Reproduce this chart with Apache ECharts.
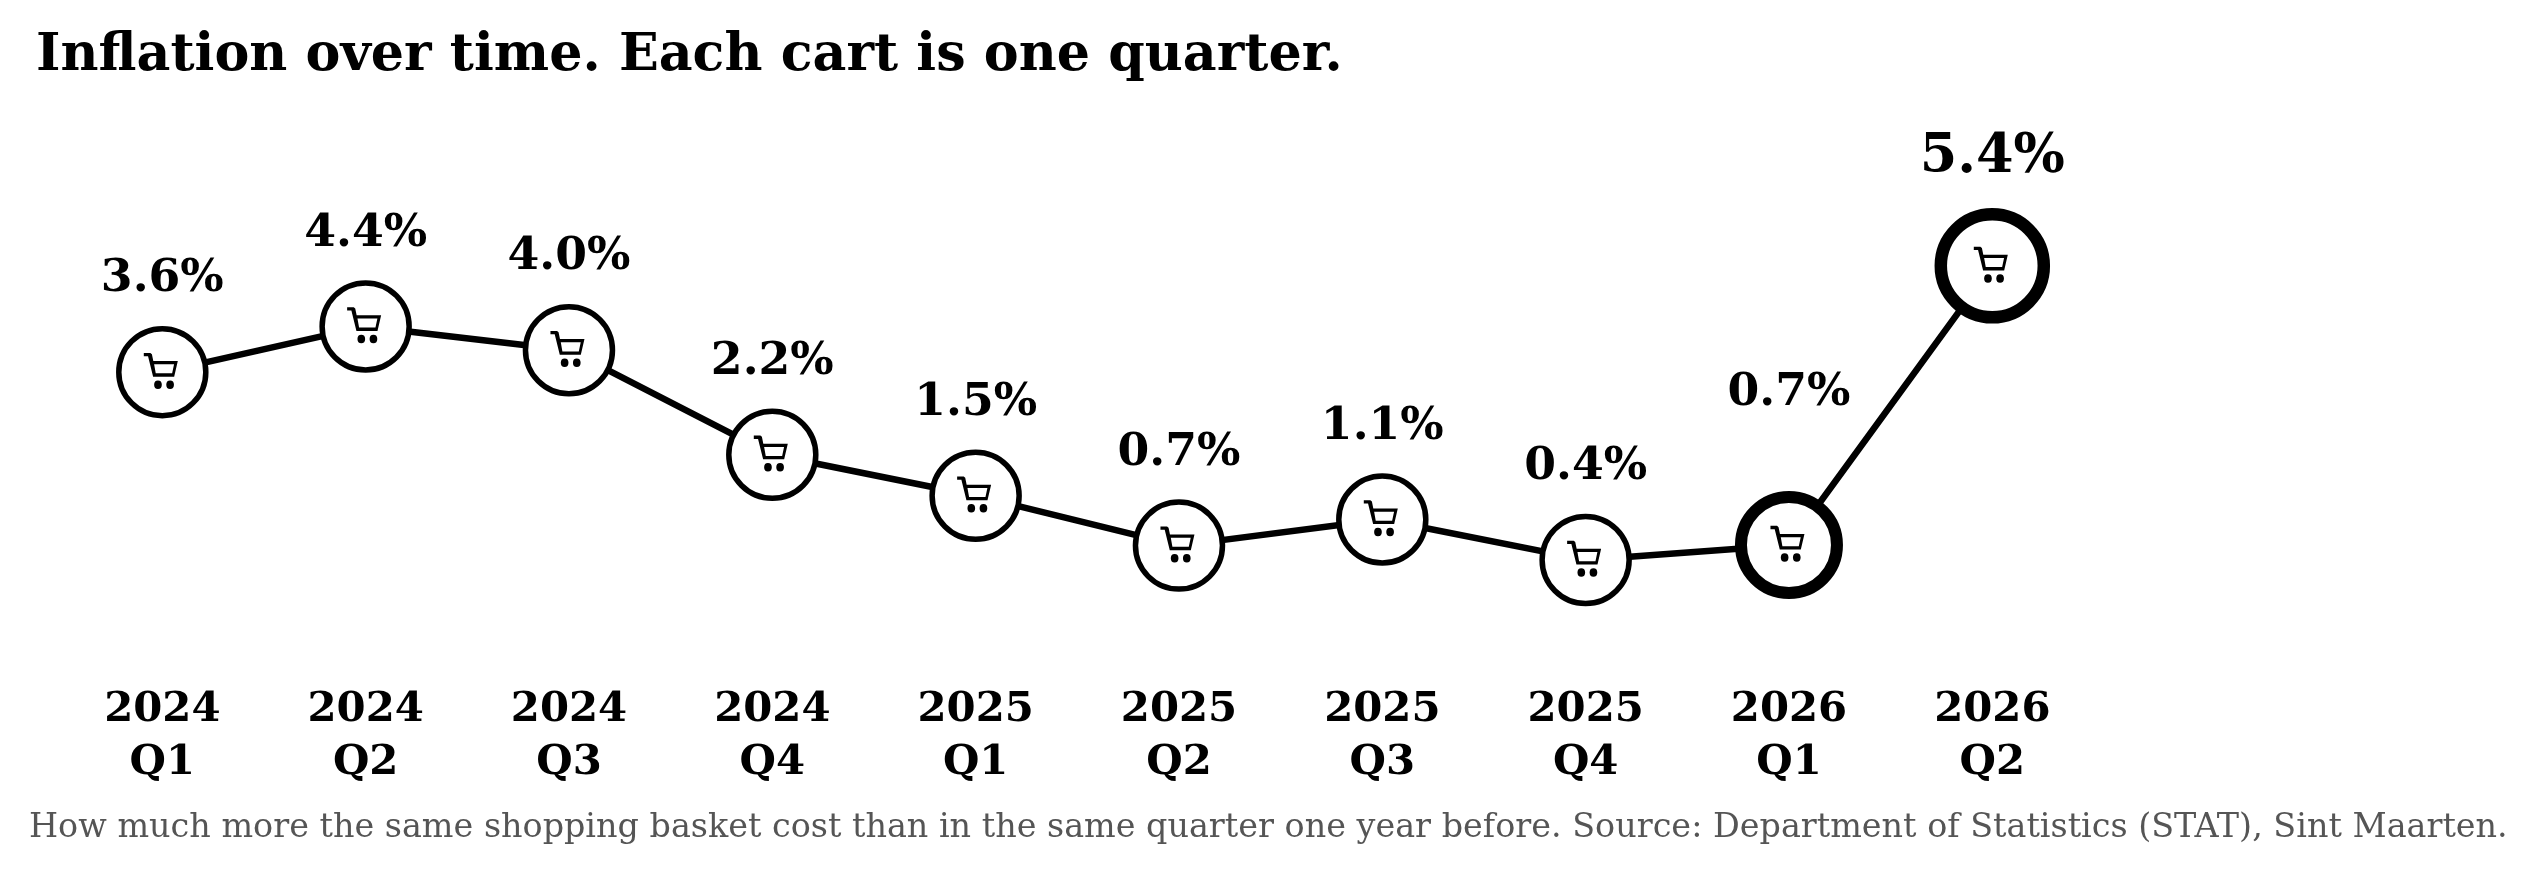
<!DOCTYPE html>
<html><head><meta charset="utf-8">
<style>html,body{margin:0;padding:0;background:#fff}#c{width:2538px;height:873px}</style>
<script src="https://cdn.jsdelivr.net/npm/echarts@6/dist/echarts.min.js"></script>
</head><body><div id="c"></div>
<script>
const years = ['2024','2024','2024','2024','2025','2025','2025','2025','2026','2026'];
const quarters = ['Q1','Q2','Q3','Q4','Q1','Q2','Q3','Q4','Q1','Q2'];
const inflation = [3.61,4.38,3.98,2.22,1.53,0.69,1.13,0.449,0.70,5.40];
const valueLabels = ['3.6%','4.4%','4.0%','2.2%','1.5%','0.7%','1.1%','0.4%','0.7%','5.4%'];
const titleText = 'Inflation over time. Each cart is one quarter.';
const noteText = 'How much more the same shopping basket cost than in the same quarter one year before. Source: Department of Statistics (STAT), Sint Maarten.';

const FONT = '"DejaVu Serif", serif';
const CART = 'path://M0 0L6.5 0L8 1.2L9.4 7.3L33.6 7.3L30 21.3L9.2 21.3L4.2 3L0 3Z' +
  'M10.2 10.2L11.8 18.3L28 18.3L29.9 10.2Z' +
  'M10.2 28.5A3.8 3.8 0 1 0 17.8 28.5A3.8 3.8 0 1 0 10.2 28.5Z' +
  'M22.2 28.5A3.8 3.8 0 1 0 29.8 28.5A3.8 3.8 0 1 0 22.2 28.5Z';
const markerStyle = i => i === 9 ? {size:103,border:12.5,font:54,dist:23}
  : i === 8 ? {size:96,border:12,font:45.7,dist:75}
  : {size:87,border:5.5,font:45.7,dist:23.5};

const chart = echarts.init(document.getElementById('c'), null, {renderer:'canvas'});
chart.setOption({
  animation:false,
  backgroundColor:'#fff',
  title:[
    {text:titleText,left:36,top:30,padding:0,textStyle:{fontFamily:FONT,fontWeight:'bold',fontSize:52.3,color:'#000'}},
    {text:noteText,left:29,top:812,padding:0,textStyle:{fontFamily:FONT,fontWeight:'normal',fontSize:33.4,color:'#555'}}
  ],
  grid:{left:162.3,right:2538-1992.3,top:230.2,height:356.4},
  xAxis:{type:'category',boundaryGap:false,data:years.map((y,i)=>y+'\n'+quarters[i]),
    axisLine:{show:false},axisTick:{show:false},splitLine:{show:false},
    axisLabel:{interval:0,margin:97.5,fontFamily:FONT,fontWeight:'bold',fontSize:41.8,lineHeight:53,color:'#000'}},
  yAxis:{type:'value',min:0,max:6,show:false},
  series:[
    {type:'line',clip:false,z:2,symbol:'circle',showSymbol:true,
     lineStyle:{color:'#000',width:6.5},
     data:inflation.map((v,i)=>{const m=markerStyle(i);return {
       value:v,symbolSize:m.size,
       itemStyle:{color:'#fff',borderColor:'#000',borderWidth:m.border},
       label:{show:true,position:'top',distance:m.dist,formatter:valueLabels[i],
         fontFamily:FONT,fontWeight:'bold',fontSize:m.font,color:'#000'}
     };})},
    {type:'scatter',clip:false,z:3,silent:true,symbol:CART,symbolSize:[34,36],symbolKeepAspect:false,
     symbolOffset:[-1.5,-1.2],itemStyle:{color:'#000',opacity:1},data:inflation.slice()}
  ]
});
</script></body></html>
